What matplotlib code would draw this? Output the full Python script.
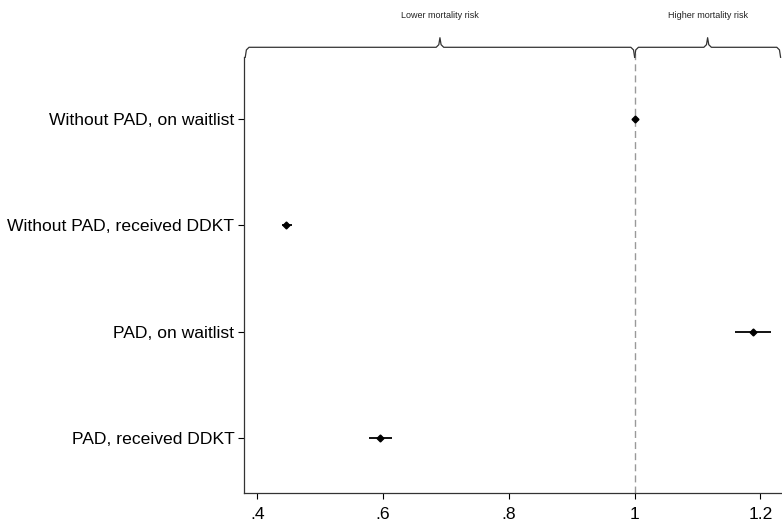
import matplotlib.pyplot as plt
import numpy as np

plt.rcParams['font.family'] = ['Liberation Sans', 'DejaVu Sans']

# hazard ratios with 95% CI
groups = ['Without PAD, on waitlist', 'Without PAD, received DDKT',
          'PAD, on waitlist', 'PAD, received DDKT']
hr = [1.0, 0.446, 1.188, 0.595]
ci_low = [0.998, 0.440, 1.159, 0.578]
ci_high = [1.002, 0.455, 1.216, 0.614]
xticks = [0.4, 0.6, 0.8, 1.0, 1.2]
xticklabels = ['.4', '.6', '.8', '1', '1.2']

fig = plt.figure(figsize=(7.82, 5.21), dpi=100)
ax = fig.add_axes([0.312, 0.054, 0.687, 0.836])

ypos = np.arange(len(groups))
ax.hlines(ypos, ci_low, ci_high, color='black', lw=1.3)
ax.plot(hr, ypos, 'D', color='black', ms=3.5)

xmin, xmax = 0.379, 1.233
ax.set_xlim(xmin, xmax)
ax.set_ylim(3.52, -0.585)
ax.axvline(1.0, ymin=0, ymax=1.01, color='#999999', lw=1, ls=(0, (5, 3)),
           clip_on=False, zorder=0)

ax.set_yticks(ypos)
ax.set_yticklabels(groups, fontsize=12.6)
ax.set_xticks(xticks)
ax.set_xticklabels(xticklabels, fontsize=12.6)
ax.tick_params(axis='y', length=4, width=0.8, pad=3)
ax.tick_params(axis='x', length=4, width=0.8, pad=6)
for s in ['top', 'right']:
    ax.spines[s].set_visible(False)
for s in ['left', 'bottom']:
    ax.spines[s].set_linewidth(0.9)
    ax.spines[s].set_color('#333333')

# curly braces over the two risk regions
trans = ax.get_xaxis_transform()


def brace(x0, x1, label):
    xm = (x0 + x1) / 2
    ybar, yend, ytip = 1.023, 1.0, 1.045
    d = 0.006
    xs = [x0, x0 + d * 0.3, x0 + d, xm - d, xm - d * 0.3, xm,
          xm + d * 0.3, xm + d, x1 - d, x1 - d * 0.3, x1]
    ys = [yend, ybar - 0.006, ybar, ybar, ybar + 0.006, ytip,
          ybar + 0.006, ybar, ybar, ybar - 0.006, yend]
    ax.plot(xs, ys, color='#333333', lw=0.9, transform=trans, clip_on=False)
    ax.text(xm, 1.097, label, transform=trans, ha='center', va='center',
            fontsize=6.5, color='#222222')


brace(xmin + 0.002, 1.0, 'Lower mortality risk')
brace(1.0, xmax - 0.001, 'Higher mortality risk')

fig.savefig('out.png', dpi=100)
